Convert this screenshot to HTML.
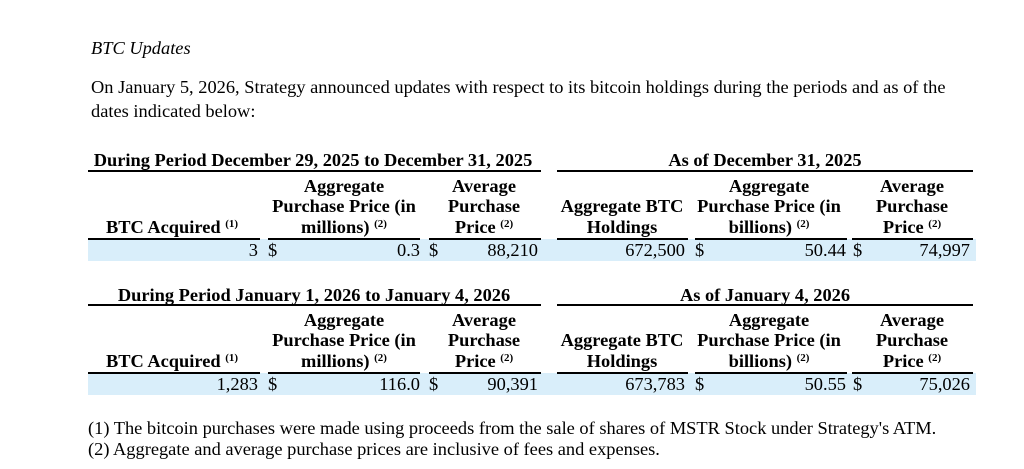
<!DOCTYPE html>
<html><head><meta charset="utf-8"><style>
body{margin:0;width:1024px;height:469px;background:#fff;position:relative;overflow:hidden;font-family:"Liberation Serif",serif;font-size:18.4px;color:#000}
.t{position:absolute;white-space:nowrap;line-height:20px}
.b{font-weight:bold}
.c{transform:translateX(-50%)}
.r{transform:translateX(-100%)}
.l{position:absolute;height:1.5px;background:#000}
.bg{position:absolute;background:#d9eefa}
sup{font-size:11px;vertical-align:6px;line-height:0}
</style></head><body>
<div class="t" style="left:91px;top:38px;font-style:italic">BTC Updates</div>
<div class="t" style="left:91px;top:77px">On January 5, 2026, Strategy announced updates with respect to its bitcoin holdings during the periods and as of the</div>
<div class="t" style="left:91px;top:101px">dates indicated below:</div>

<div class="t b c" style="left:313px;top:150px">During Period December 29, 2025 to December 31, 2025</div>
<div class="t b c" style="left:765px;top:150px">As of December 31, 2025</div>
<div class="l" style="left:88px;width:453px;top:170px"></div>
<div class="l" style="left:557px;width:416px;top:170px"></div>
<div class="t b c" style="left:344px;top:176px">Aggregate</div>
<div class="t b c" style="left:344px;top:196px">Purchase Price (in</div>
<div class="t b c" style="left:344px;top:217px">millions) <sup>(2)</sup></div>
<div class="t b c" style="left:484px;top:176px">Average</div>
<div class="t b c" style="left:484px;top:196px">Purchase</div>
<div class="t b c" style="left:484px;top:217px">Price <sup>(2)</sup></div>
<div class="t b c" style="left:172px;top:217px">BTC Acquired <sup>(1)</sup></div>
<div class="t b c" style="left:622px;top:196px">Aggregate BTC</div>
<div class="t b c" style="left:622px;top:217px">Holdings</div>
<div class="t b c" style="left:769px;top:176px">Aggregate</div>
<div class="t b c" style="left:769px;top:196px">Purchase Price (in</div>
<div class="t b c" style="left:769px;top:217px">billions) <sup>(2)</sup></div>
<div class="t b c" style="left:912px;top:176px">Average</div>
<div class="t b c" style="left:912px;top:196px">Purchase</div>
<div class="t b c" style="left:912px;top:217px">Price <sup>(2)</sup></div>
<div class="bg" style="left:88px;width:888px;top:239px;height:22px"></div>
<div class="l" style="left:88px;width:172px;top:238px"></div>
<div class="l" style="left:268px;width:152px;top:238px"></div>
<div class="l" style="left:429px;width:112px;top:238px"></div>
<div class="l" style="left:557px;width:131px;top:238px"></div>
<div class="l" style="left:695px;width:152px;top:238px"></div>
<div class="l" style="left:852px;width:121px;top:238px"></div>
<div class="t r" style="left:258px;top:240px">3</div>
<div class="t" style="left:268px;top:240px">$</div>
<div class="t r" style="left:420px;top:240px">0.3</div>
<div class="t" style="left:429px;top:240px">$</div>
<div class="t r" style="left:538px;top:240px">88,210</div>
<div class="t r" style="left:685px;top:240px">672,500</div>
<div class="t" style="left:695px;top:240px">$</div>
<div class="t r" style="left:846px;top:240px">50.44</div>
<div class="t" style="left:853px;top:240px">$</div>
<div class="t r" style="left:970px;top:240px">74,997</div>

<div class="t b c" style="left:314px;top:285px">During Period January 1, 2026 to January 4, 2026</div>
<div class="t b c" style="left:765px;top:285px">As of January 4, 2026</div>
<div class="l" style="left:88px;width:453px;top:304px"></div>
<div class="l" style="left:557px;width:416px;top:304px"></div>
<div class="t b c" style="left:344px;top:310px">Aggregate</div>
<div class="t b c" style="left:344px;top:330px">Purchase Price (in</div>
<div class="t b c" style="left:344px;top:351px">millions) <sup>(2)</sup></div>
<div class="t b c" style="left:484px;top:310px">Average</div>
<div class="t b c" style="left:484px;top:330px">Purchase</div>
<div class="t b c" style="left:484px;top:351px">Price <sup>(2)</sup></div>
<div class="t b c" style="left:172px;top:351px">BTC Acquired <sup>(1)</sup></div>
<div class="t b c" style="left:622px;top:330px">Aggregate BTC</div>
<div class="t b c" style="left:622px;top:351px">Holdings</div>
<div class="t b c" style="left:769px;top:310px">Aggregate</div>
<div class="t b c" style="left:769px;top:330px">Purchase Price (in</div>
<div class="t b c" style="left:769px;top:351px">billions) <sup>(2)</sup></div>
<div class="t b c" style="left:912px;top:310px">Average</div>
<div class="t b c" style="left:912px;top:330px">Purchase</div>
<div class="t b c" style="left:912px;top:351px">Price <sup>(2)</sup></div>
<div class="bg" style="left:88px;width:888px;top:373px;height:22px"></div>
<div class="l" style="left:88px;width:172px;top:372px"></div>
<div class="l" style="left:268px;width:152px;top:372px"></div>
<div class="l" style="left:429px;width:112px;top:372px"></div>
<div class="l" style="left:557px;width:131px;top:372px"></div>
<div class="l" style="left:695px;width:152px;top:372px"></div>
<div class="l" style="left:852px;width:121px;top:372px"></div>
<div class="t r" style="left:258px;top:374px">1,283</div>
<div class="t" style="left:268px;top:374px">$</div>
<div class="t r" style="left:420px;top:374px">116.0</div>
<div class="t" style="left:429px;top:374px">$</div>
<div class="t r" style="left:538px;top:374px">90,391</div>
<div class="t r" style="left:685px;top:374px">673,783</div>
<div class="t" style="left:695px;top:374px">$</div>
<div class="t r" style="left:846px;top:374px">50.55</div>
<div class="t" style="left:853px;top:374px">$</div>
<div class="t r" style="left:970px;top:374px">75,026</div>

<div class="t" style="left:88px;top:418px">(1) The bitcoin purchases were made using proceeds from the sale of shares of MSTR Stock under Strategy's ATM.</div>
<div class="t" style="left:88px;top:439px">(2) Aggregate and average purchase prices are inclusive of fees and expenses.</div>
</body></html>
